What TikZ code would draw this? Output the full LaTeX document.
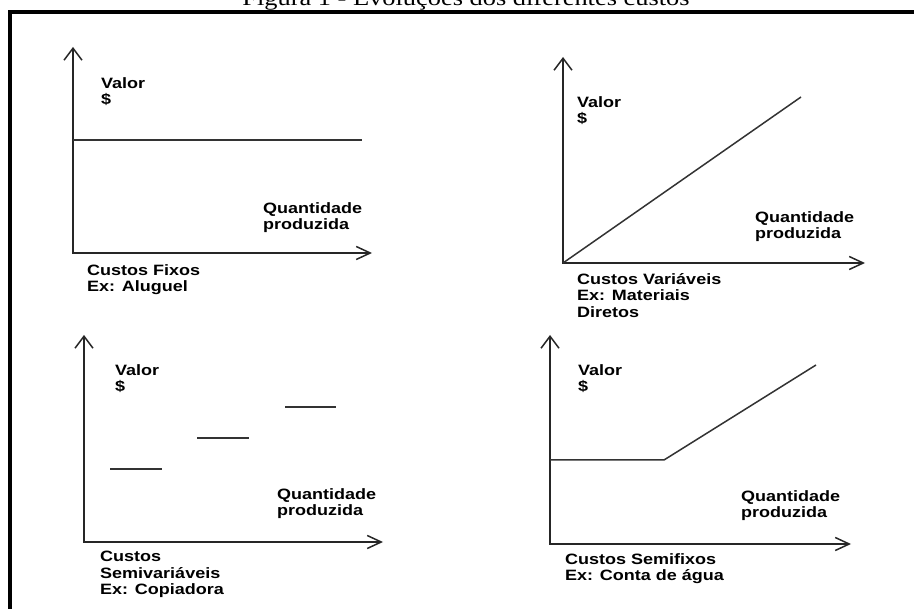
\documentclass[tikz,border=0pt]{standalone}
\usepackage{fontspec}
\usetikzlibrary{arrows.meta}
\newfontfamily\labfam{Liberation Sans}[FakeStretch=1.2]
\newfontfamily\titfam{Liberation Serif}[FakeStretch=1.2]
\tikzset{
  axis/.style={line width=1.5pt, draw=black!85,
    {Straight Barb[length=12pt,width=18pt,line width=1.5pt]}-{Straight Barb[length=14pt,width=13pt,line width=1.5pt]}},
  curve/.style={line width=1.5pt, draw=black!80},
  lab/.style={font=\labfam\bfseries\fontsize{15}{16.5}\selectfont, align=left, inner sep=0pt, anchor=base west},
  frame/.style={line width=4pt, draw=black}
}
\begin{document}
\begin{tikzpicture}[x=1pt,y=-1pt]
\useasboundingbox (0,0) rectangle (914,609);
\clip (0,0) rectangle (914,609);
% title
\node[font=\titfam\fontsize{22}{24}\selectfont, inner sep=0pt, anchor=base] (title) at (466,6) {Figura 1 - Evoluções dos diferentes custos};
% frame
\coordinate (fr1) at (930,12);
\coordinate (fr2) at (9.5,12);
\coordinate (fr3) at (9.5,625);
\draw[frame] (fr1) -- (fr2) -- (fr3);

% ---- panel 1: fixed costs
\coordinate (t1) at (73,47);
\coordinate (o1) at (73,253);
\coordinate (r1) at (372,253);
\draw[axis] (t1) -- (o1) -- (r1);
\coordinate (a1) at (73,140);
\coordinate (b1) at (362,140);
\draw[curve] (a1) -- (b1);
\node[lab] (v1) at (101,105) {Valor\\\$};
\node[lab] (q1) at (263,230) {Quantidade\\produzida};
\node[lab] (c1) at (87,292) {Custos Fixos\\Ex: Aluguel};

% ---- panel 2: variable costs
\coordinate (t2) at (563,57);
\coordinate (o2) at (563,263);
\coordinate (r2) at (865,263);
\draw[axis] (t2) -- (o2) -- (r2);
\coordinate (b2) at (801,97);
\draw[curve] (o2) -- (b2);
\node[lab] (v2) at (577,124) {Valor\\\$};
\node[lab] (q2) at (755,239) {Quantidade\\produzida};
\node[lab] (c2) at (577,317.5) {Custos Variáveis\\Ex: Materiais\\Diretos};

% ---- panel 3: semi-variable costs
\coordinate (t3) at (84,335);
\coordinate (o3) at (84,542);
\coordinate (r3) at (383,542);
\draw[axis] (t3) -- (o3) -- (r3);
\coordinate (s1a) at (110,469);
\coordinate (s1b) at (162,469);
\coordinate (s2a) at (197,438);
\coordinate (s2b) at (249,438);
\coordinate (s3a) at (285,407);
\coordinate (s3b) at (336,407);
\draw[curve] (s1a) -- (s1b);
\draw[curve] (s2a) -- (s2b);
\draw[curve] (s3a) -- (s3b);
\node[lab] (v3) at (115,392) {Valor\\\$};
\node[lab] (q3) at (277,516) {Quantidade\\produzida};
\node[lab] (c3) at (100,595) {Custos\\Semivariáveis\\Ex: Copiadora};

% ---- panel 4: semi-fixed costs
\coordinate (t4) at (550,335);
\coordinate (o4) at (550,544);
\coordinate (r4) at (851,544);
\draw[axis] (t4) -- (o4) -- (r4);
\coordinate (f1) at (550,460);
\coordinate (f2) at (664,460);
\coordinate (f3) at (816,365);
\draw[curve] (f1) -- (f2) -- (f3);
\node[lab] (v4) at (578,392) {Valor\\\$};
\node[lab] (q4) at (741,518) {Quantidade\\produzida};
\node[lab] (c4) at (565,581) {Custos Semifixos\\Ex: Conta de água};
\end{tikzpicture}
\end{document}
